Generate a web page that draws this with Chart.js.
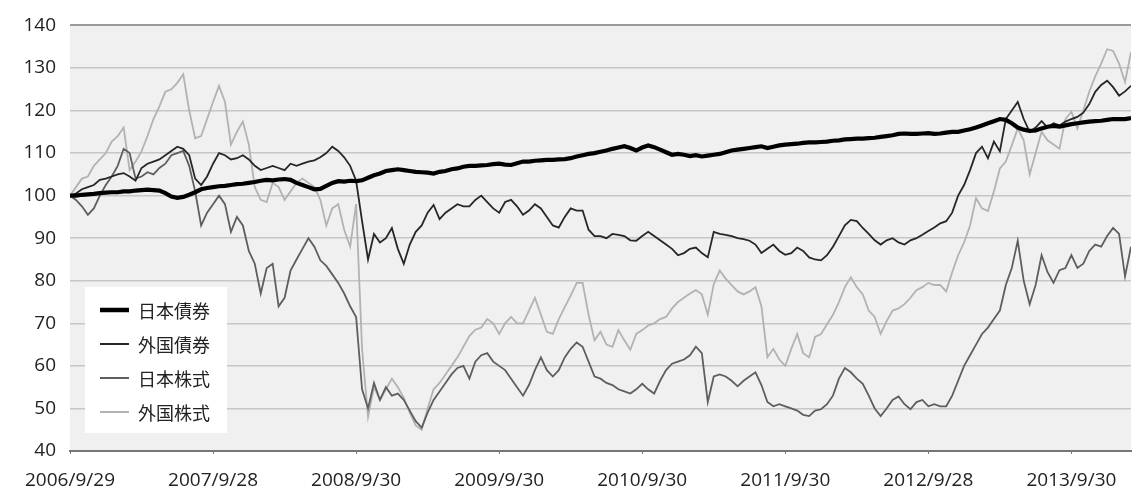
<!DOCTYPE html>
<html>
<head>
<meta charset="utf-8">
<script src="https://cdn.jsdelivr.net/npm/chart.js@4.4.1/dist/chart.umd.min.js"></script>
<style>
  html, body { margin: 0; padding: 0; background: #fff; }
  #wrap { width: 1132px; height: 489px; }
</style>
</head>
<body>
<div id="wrap"><canvas id="perf_chart"></canvas></div>
<script>
// half-month steps from 2006/9/29 (x value = months since start)
const seriesNames = ["日本債券", "外国債券", "日本株式", "外国株式"];
const tickMonths = [0, 12, 24, 36, 48, 60, 72, 84];
const tickLabels = ["2006/9/29", "2007/9/28", "2008/9/30", "2009/9/30", "2010/9/30", "2011/9/30", "2012/9/28", "2013/9/30"];

const jpBonds = [
  100, 100, 100.2, 100.3, 100.4, 100.6, 100.7, 100.8, 100.8, 101, 101, 101.2, 101.3, 101.4, 101.3, 101.2, 100.6, 99.8, 99.5, 99.7, 100.2, 100.8, 101.5, 101.8,
  102, 102.2, 102.3, 102.5, 102.7, 102.8, 103, 103.2, 103.5, 103.7, 103.6, 103.8, 103.9, 103.7, 103, 102.5, 102, 101.5, 101.6, 102.3, 103, 103.4, 103.3, 103.5,
  103.4, 103.6, 104.2, 104.8, 105.2, 105.8, 106, 106.2, 106, 105.8, 105.6, 105.5, 105.4, 105.2, 105.6, 105.8, 106.2, 106.4, 106.8, 107, 107, 107.1, 107.2, 107.4,
  107.5, 107.3, 107.2, 107.6, 108, 108, 108.2, 108.3, 108.4, 108.4, 108.5, 108.6, 108.8, 109.2, 109.5, 109.8, 110, 110.3, 110.6, 111, 111.3, 111.6, 111.2, 110.6,
  111.3, 111.8, 111.4, 110.8, 110.2, 109.6, 109.8, 109.6, 109.3, 109.5, 109.2, 109.4, 109.6, 109.8, 110.2, 110.6, 110.8, 111, 111.2, 111.4, 111.6, 111.2, 111.5, 111.8,
  112, 112.1, 112.2, 112.4, 112.5, 112.5, 112.6, 112.7, 112.9, 113, 113.2, 113.3, 113.4, 113.4, 113.5, 113.6, 113.8, 114, 114.2, 114.5, 114.6, 114.5, 114.5, 114.6,
  114.7, 114.5, 114.6, 114.8, 115, 115, 115.3, 115.6, 116, 116.5, 117, 117.5, 118, 117.8, 117, 116, 115.5, 115.2, 115.3, 115.8, 116.2, 116.4, 116.2, 116.5,
  116.8, 117, 117.2, 117.4, 117.5, 117.6, 117.8, 118, 118, 118, 118.2
];

const fxBonds = [
  100, 100.5, 101.5, 102, 102.5, 103.7, 104, 104.5, 105, 105.3, 104.5, 103.5, 106.5, 107.5, 108, 108.5, 109.5, 110.5, 111.5, 111, 109.5, 104, 102.5, 104.5,
  107.5, 110, 109.5, 108.5, 108.8, 109.5, 108.5, 107, 106, 106.5, 107, 106.5, 106, 107.5, 107, 107.5, 108, 108.3, 109, 110, 111.5, 110.5, 109, 107,
  103.5, 94, 85, 91, 89, 90, 92.4, 87.5, 84, 88.5, 91.5, 93, 96, 97.8, 94.5, 96, 97, 98, 97.5, 97.5, 99, 100, 98.5, 97,
  96, 98.5, 99, 97.5, 95.5, 96.5, 98, 97, 95, 93, 92.5, 95, 97, 96.5, 96.5, 92, 90.5, 90.5, 90, 91, 90.8, 90.5, 89.5, 89.4,
  90.5, 91.5, 90.5, 89.5, 88.5, 87.5, 86, 86.5, 87.5, 87.8, 86.5, 85.5, 91.5, 91, 90.8, 90.5, 90, 89.8, 89.4, 88.5, 86.5, 87.5, 88.5, 87,
  86.1, 86.5, 87.8, 87, 85.5, 85, 84.8, 86, 88, 90.5, 93, 94.3, 94, 92.4, 91, 89.5, 88.5, 89.5, 90, 89, 88.5, 89.5, 90, 90.8,
  91.7, 92.5, 93.5, 94, 96, 100, 102.5, 106, 110, 111.5, 108.8, 112.7, 110.4, 118, 120, 122, 118, 115, 116, 117.5, 116, 117, 116.5, 117.4,
  118, 118.5, 119.5, 121.5, 124.4, 126, 127, 125.5, 123.5, 124.5, 125.8
];

const jpStocks = [
  100, 99, 97.5, 95.5, 97, 100, 102.5, 104.5, 107, 111, 110, 104, 104.5, 105.5, 105, 106.5, 107.5, 109.5, 110, 110.5, 107, 101, 93, 96,
  98, 100, 98, 91.5, 95, 93, 87, 84, 77, 83, 84, 74, 76, 82.4, 85, 87.5, 90, 88, 84.8, 83.5, 81.5, 79.5, 77, 74,
  71.5, 54.5, 50, 56, 52, 55, 53, 53.5, 52, 49.5, 47, 45.5, 49, 52, 54, 56, 58, 59.5, 60, 57, 61, 62.5, 63, 61,
  60, 59, 57, 55, 53, 55.5, 59, 62, 59, 57.5, 59, 62, 64, 65.5, 64.5, 61, 57.5, 57, 56, 55.5, 54.5, 54, 53.5, 54.5,
  55.8, 54.5, 53.5, 56.5, 59, 60.5, 61, 61.5, 62.5, 64.5, 63, 51.5, 57.5, 58, 57.5, 56.5, 55.2, 56.5, 57.5, 58.5, 55.5, 51.5, 50.5, 51,
  50.5, 50, 49.5, 48.5, 48.2, 49.5, 49.8, 51, 53, 57, 59.5, 58.5, 57, 55.8, 53, 50, 48.2, 50, 52, 52.8, 51, 49.8, 51.5, 52,
  50.5, 51, 50.5, 50.5, 53, 56.5, 60, 62.5, 65, 67.5, 69, 71, 73, 79, 83, 89.4, 80, 74.5, 79, 86, 82, 79.5, 82.5, 83,
  86, 83, 84, 87, 88.5, 88, 90.5, 92.4, 91, 81, 88
];

const fxStocks = [
  100, 102, 104, 104.5, 107, 108.5, 110, 112.7, 114, 116, 106, 108, 110.4, 114, 118, 121, 124.4, 125, 126.5, 128.5, 120, 113.5, 114, 118,
  122, 125.8, 122, 112, 115, 117.4, 112, 102, 99, 98.5, 103, 102, 99, 101, 103, 104, 103, 102, 99, 93, 97, 98, 92, 88,
  98, 64, 48, 55, 52, 54.5, 57, 55, 52.5, 49, 46, 45, 50, 54.5, 56, 58, 60, 62, 64.5, 67, 68.5, 69, 71, 70,
  67.5, 70, 71.5, 70, 70, 73, 76, 72, 68, 67.5, 71, 73.8, 76.5, 79.5, 79.5, 72, 66, 68, 65, 64.5, 68.4, 66, 63.8, 67.5,
  68.4, 69.5, 70, 71, 71.5, 73.5, 75, 76, 77, 77.8, 76.8, 72, 79.2, 82.4, 80.5, 79, 77.5, 76.8, 77.5, 78.5, 74, 62, 64, 61.5,
  60, 64, 67.5, 63, 62, 66.8, 67.5, 69.8, 72, 75, 78.5, 80.8, 78.5, 76.8, 73, 71.5, 67.5, 70.5, 73, 73.5, 74.5, 76, 77.8, 78.5,
  79.5, 79, 79, 77.5, 82, 86, 89, 93, 99.4, 97, 96.4, 101, 106.4, 108, 111.8, 115.8, 113, 105, 110, 115, 113, 112, 111, 118,
  119.7, 115.8, 120, 124.4, 128, 131, 134.4, 134, 131, 126.7, 133.7
];

const toPoints = (arr) => arr.map((v, i) => ({ x: i * 0.5, y: v }));

const lineColors = ["#000000", "#262626", "#5e5e5e", "#b2b2b2"];
const lineWidths = [4.2, 1.8, 1.8, 1.8];
const seriesValues = [jpBonds, fxBonds, jpStocks, fxStocks];
const tickFont = { family: '"Open Sans", "Noto Sans", sans-serif', size: 19 };

const plotBg = {
  id: "plotBg",
  beforeDraw(chart) {
    const { ctx, chartArea: a } = chart;
    ctx.save();
    ctx.fillStyle = "#f0f0f0";
    ctx.fillRect(a.left, a.top, a.right - a.left, a.bottom - a.top);
    ctx.restore();
  },
};

// legend box inside the plot, lower left
const boxLegend = {
  id: "boxLegend",
  afterDraw(chart) {
    const ctx = chart.ctx;
    ctx.save();
    ctx.fillStyle = "#ffffff";
    ctx.fillRect(85, 287, 142, 146);
    ctx.font = '18px "Noto Sans CJK JP", "Noto Sans", sans-serif';
    ctx.textBaseline = "middle";
    chart.data.datasets.forEach((ds, i) => {
      const y = 310 + i * 34;
      ctx.strokeStyle = ds.borderColor;
      ctx.lineWidth = i === 0 ? 4.5 : 2;
      ctx.beginPath();
      ctx.moveTo(100, y);
      ctx.lineTo(129, y);
      ctx.stroke();
      ctx.fillStyle = "#222";
      ctx.fillText(ds.label, 138, y + 1);
    });
    ctx.restore();
  },
};

new Chart(document.getElementById("perf_chart"), {
  type: "line",
  data: {
    datasets: seriesNames.map((name, i) => ({
      label: name,
      data: toPoints(seriesValues[i]),
      borderColor: lineColors[i],
      backgroundColor: lineColors[i],
      borderWidth: lineWidths[i],
      pointRadius: 0,
      tension: 0,
    })),
  },
  options: {
    responsive: true,
    maintainAspectRatio: false,
    animation: false,
    layout: { padding: { top: 21, right: 1, left: 0, bottom: 0 } },
    plugins: { legend: { display: false }, tooltip: { enabled: false } },
    scales: {
      x: {
        type: "linear",
        min: 0,
        max: 89,
        afterBuildTicks: (s) => { s.ticks = tickMonths.map((v) => ({ value: v })); },
        afterFit: (s) => { s.height = 38; },
        ticks: {
          callback: (v) => tickLabels[tickMonths.indexOf(v)] || "",
          color: "#222",
          font: tickFont,
          padding: 15,
          maxRotation: 0,
          autoSkip: false,
        },
        grid: { drawOnChartArea: false, drawTicks: true, tickLength: 3, color: "#777" },
        border: { display: true, color: "#777", width: 2 },
      },
      y: {
        min: 40,
        max: 140,
        afterFit: (s) => { s.width = 70; },
        ticks: {
          stepSize: 10,
          color: "#222",
          font: tickFont,
          padding: 14,
        },
        grid: {
          drawTicks: false,
          lineWidth: (c) => (c.tick && c.tick.value === 140 ? 2 : 1.5),
          color: (c) => (c.tick && c.tick.value === 140 ? "#9a9a9a" : "#c6c6c6"),
        },
        border: { display: false },
      },
    },
  },
  plugins: [plotBg, boxLegend],
});
</script>
</body>
</html>
